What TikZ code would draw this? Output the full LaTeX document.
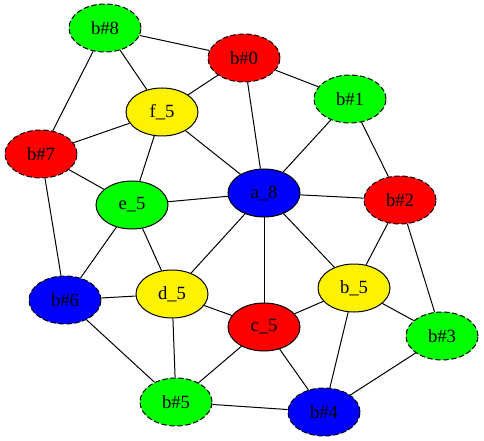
\documentclass[tikz,border=0pt]{standalone}
\usepackage{fontspec}
\setmainfont{Liberation Serif}
\usetikzlibrary{shapes.geometric}
\begin{document}
\begin{tikzpicture}[x=0.75pt, y=-0.75pt,
		every node/.style={font=\fontsize{14}{16}\selectfont},
		vtx/.style={ellipse, draw=black, line width=0.75pt, minimum width=54pt, minimum height=36pt, inner sep=0pt},
		bvtx/.style={vtx, dash pattern=on 4pt off 2pt},
		edge/.style={line width=0.75pt, black}]
	\useasboundingbox (0,0) rectangle (484,441);
	% ==================== 顶点 ====================
	
	% --- b# 顶点（虚线边框） ---
	\node[bvtx, fill=green]  (b8) at (105,28)  {b\#8};
	\node[bvtx, fill=red]    (b0) at (244,58)  {b\#0};
	\node[bvtx, fill=green]  (b1) at (350,99)  {b\#1};
	\node[bvtx, fill=red]    (b7) at (41,154)  {b\#7};
	\node[bvtx, fill=red]    (b2) at (400,200) {b\#2};
	\node[bvtx, fill=blue]   (b6) at (65,300)  {b\#6};
	\node[bvtx, fill=green]  (b3) at (442,336) {b\#3};
	\node[bvtx, fill=green]  (b5) at (176,402) {b\#5};
	\node[bvtx, fill=blue]   (b4) at (324,412) {b\#4};
	
	% --- 内部顶点（实线边框） ---
	\node[vtx, fill=yellow]  (f5) at (162,112) {f\_5};
	\node[vtx, fill=blue]    (a8) at (264,193) {a\_8};
	\node[vtx, fill=green]   (e5) at (132,205) {e\_5};
	\node[vtx, fill=yellow]  (d5) at (172,294) {d\_5};
	\node[vtx, fill=yellow]  (bb5) at (354,288) {b\_5};
	\node[vtx, fill=red]     (c5) at (264,327) {c\_5};
	
	% ==================== 边 ====================
	\draw[edge] (b8) -- (b0);
	\draw[edge] (b8) -- (f5);
	\draw[edge] (b8) -- (b7);
	\draw[edge] (b0) -- (f5);
	\draw[edge] (b0) -- (a8);
	\draw[edge] (b0) -- (b1);
	\draw[edge] (b1) -- (a8);
	\draw[edge] (b1) -- (b2);
	\draw[edge] (f5) -- (b7);
	\draw[edge] (f5) -- (e5);
	\draw[edge] (f5) -- (a8);
	\draw[edge] (b7) -- (e5);
	\draw[edge] (b7) -- (b6);
	\draw[edge] (a8) -- (e5);
	\draw[edge] (a8) -- (b2);
	\draw[edge] (a8) -- (d5);
	\draw[edge] (a8) -- (c5);
	\draw[edge] (a8) -- (bb5);
	\draw[edge] (b2) -- (bb5);
	\draw[edge] (b2) -- (b3);
	\draw[edge] (e5) -- (b6);
	\draw[edge] (e5) -- (d5);
	\draw[edge] (d5) -- (b6);
	\draw[edge] (d5) -- (c5);
	\draw[edge] (d5) -- (b5);
	\draw[edge] (b6) -- (b5);
	\draw[edge] (c5) -- (bb5);
	\draw[edge] (c5) -- (b5);
	\draw[edge] (c5) -- (b4);
	\draw[edge] (bb5) -- (b3);
	\draw[edge] (bb5) -- (b4);
	\draw[edge] (b3) -- (b4);
	\draw[edge] (b5) -- (b4);
\end{tikzpicture}
\end{document}
